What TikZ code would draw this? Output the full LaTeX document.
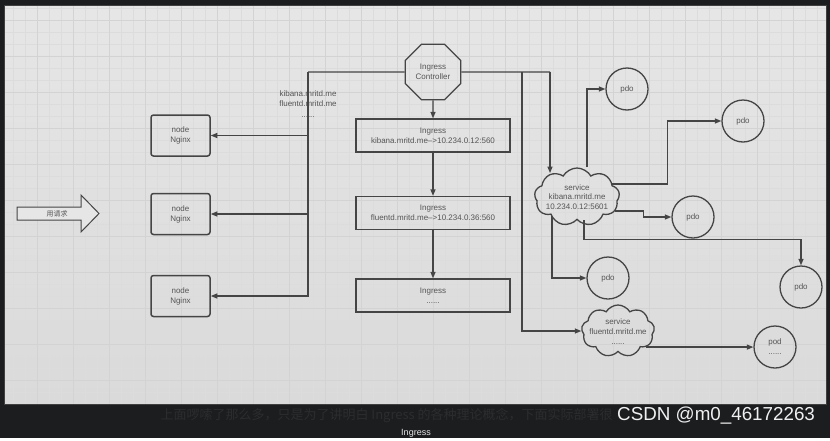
\documentclass[tikz,border=0pt]{standalone}
\usepackage{fontspec}
\setmainfont{Liberation Sans}
\newfontfamily\cjk{Noto Sans CJK SC}
\usetikzlibrary{shapes.geometric,shapes.symbols,arrows.meta,calc}
\definecolor{bgdark}{HTML}{1C1D1F}
\definecolor{paneltop}{HTML}{E6E6E6}
\definecolor{panelbot}{HTML}{DADADA}
\definecolor{gridc}{HTML}{DCDCDC}
\definecolor{gridm}{HTML}{D3D3D3}
\definecolor{ink}{HTML}{454545}
\definecolor{txt}{HTML}{555555}
\definecolor{capc}{HTML}{2C2D2F}
\begin{document}
\begin{tikzpicture}[x=1pt,y=-1pt,
  every node/.style={text=txt, font=\fontsize{8}{10}\selectfont, align=center},
  line/.style={draw=ink, line width=1.3pt},
  arr/.style={line, -{Triangle[length=6.5pt,width=5pt]}},
  ngx/.style={line, line width=1.5pt, rounded corners=2.5pt, minimum width=59pt, minimum height=41pt, inner sep=0},
  ingbox/.style={line, minimum width=154pt, minimum height=33pt, inner sep=0},
  ctrl/.style={line, regular polygon, regular polygon sides=8, minimum size=60pt, inner sep=0},
  podc/.style={line, circle, minimum size=42pt, inner sep=0},
  svc/.style={line, cloud, cloud puffs=9, cloud puff arc=120, cloud ignores aspect, inner sep=0},
]
% frame and panel
\fill[bgdark] (0,0) rectangle (830,438);
\shade[top color=paneltop, bottom color=panelbot] (4,5) rectangle (826,404);
\foreach \i in {1,...,68} { \draw[gridc, line width=0.5pt] ({1+12*\i},5) -- ({1+12*\i},404); }
\foreach \j in {0,...,33} { \draw[gridc, line width=0.5pt] (4,{8+12*\j}) -- (826,{8+12*\j}); }
\foreach \i in {1,...,22} { \draw[gridm, line width=0.6pt] ({1+36*\i},5) -- ({1+36*\i},404); }
\foreach \j in {0,...,10} { \draw[gridm, line width=0.6pt] (4,{20+36*\j}) -- (826,{20+36*\j}); }
\draw[gray!50!black, line width=0.6pt] (4,5) rectangle (826,404);

% request arrow
\draw[line, fill=paneltop, line width=1pt] (17,207) -- (81,207) -- (81,195) -- (99,213.5) -- (81,232) -- (81,220) -- (17,220) -- cycle;
\node[font=\cjk\fontsize{7}{8}\selectfont] (req) at (57,213.5) {用请求};

% controller and ingress chain
\node[ctrl] (ic) at (433,72) {Ingress\\Controller};
\node[ingbox] (ing1) at (433,135.5) {Ingress\\kibana.mritd.me-->10.234.0.12:560};
\node[ingbox] (ing2) at (433,213) {Ingress\\fluentd.mritd.me-->10.234.0.36:560};
\node[ingbox] (ing3) at (433,295.5) {Ingress\\......};
\draw[arr] (ic.south) -- (ing1.north);
\draw[arr] (ing1.south) -- (ing2.north);
\draw[arr] (ing2.south) -- (ing3.north);

% nginx nodes
\node[ngx] (n1) at (180.5,135.5) {node\\Nginx};
\node[ngx] (n2) at (180.5,214) {node\\Nginx};
\node[ngx] (n3) at (180.5,296) {node\\Nginx};
\node[font=\fontsize{8}{10.5}\selectfont] (lbl) at (308,104) {kibana.mritd.me\\fluentd.mritd.me\\......};

\coordinate (lb) at (308,72);
\draw[line] (ic.west) -- (lb);
\draw[arr] (lb) |- (n3.east);
\draw[arr] (lb |- n1.east) -- (n1.east);
\draw[arr] (lb |- n2.east) -- (n2.east);

% services
\node[svc, minimum width=85pt, minimum height=58pt] (kib) at (577,197) {};
\node[font=\fontsize{8}{9.7}\selectfont] (kibt) at (577,197) {service\\kibana.mritd.me\\10.234.0.12:5601};
\node[svc, minimum width=73pt, minimum height=52pt] (flu) at (618,331) {};
\node[font=\fontsize{8}{10}\selectfont] (flut) at (618,332) {service\\fluentd.mritd.me\\......};

\coordinate (rk) at (550,72);
\coordinate (rb) at (522,72);
\draw[line] (ic.east) -- (rk);
\draw[arr] (rk) -- (rk |- kib.135);
\draw[arr] (rb) |- (flu.west);

% pods
\node[podc] (p1) at (627,89) {pdo};
\node[podc] (p2) at (743,121) {pdo};
\node[podc] (p3) at (693,217) {pdo};
\node[podc] (p4) at (608,278) {pdo};
\node[podc] (p5) at (801,287) {pdo};
\node[podc] (pod) at (775,347) {pod\\......};

\draw[arr] ([xshift=10pt]kib.north) |- (p1.west);
\draw[arr] (kib.20) -- ++(55,0) |- (p2.west);
\draw[arr] (kib.-20) -- ++(28,0) |- (p3.west);
\draw[arr] ([xshift=7pt]kib.south) -- ++(0,19) -| (p5.north);
\draw[arr] ([xshift=-25pt,yshift=4pt]kib.south) |- (p4.west);
\draw[arr] (flu.-30) -- (flu.-30 -| pod.west);

% bottom captions
\node[text=capc, font=\cjk\fontsize{13}{14}\selectfont, anchor=west] (cap) at (157,416) {上面啰嗦了那么多，只是为了讲明白 Ingress 的各种理论概念，下面实际部署很};
\node[text=white!94!black, font=\fontsize{18.8}{20}\selectfont, anchor=west, inner sep=0] (wm) at (617,416) {CSDN @m0\_46172263};
\node[text=white!90!black, font=\fontsize{9}{10}\selectfont] (sub) at (416,433) {Ingress};
\end{tikzpicture}
\end{document}
